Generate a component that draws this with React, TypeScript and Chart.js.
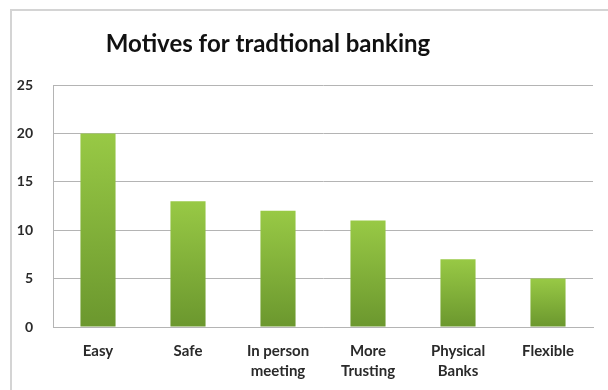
import React, { useEffect, useRef } from "react";
import { Chart, registerables } from "chart.js";

Chart.register(...registerables);

const TITLE = "Motives for tradtional banking";
const categories: (string | string[])[] = [
  "Easy",
  "Safe",
  ["In person", "meeting"],
  ["More", "Trusting"],
  ["Physical", "Banks"],
  "Flexible",
];
const values = [20, 13, 12, 11, 7, 5];
const yTicks = [0, 5, 10, 15, 20, 25];

const FONT = "Lato, 'Open Sans', sans-serif";

export default function App() {
  const ref = useRef<HTMLCanvasElement>(null);

  useEffect(() => {
    if (!ref.current) return;
    const titlePlugin = {
      id: "customTitle",
      afterDraw(chart: any) {
        const c = chart.ctx;
        c.save();
        c.font = `bold 24px ${FONT}`;
        c.fillStyle = "#111";
        c.textAlign = "center";
        c.textBaseline = "middle";
        c.fillText(TITLE, 268, 44);
        c.restore();
      },
    };
    const chart = new Chart(ref.current, {
      type: "bar",
      data: {
        labels: categories,
        datasets: [
          {
            data: values,
            backgroundColor: (ctx: any) => {
              const ch = ctx.chart;
              const ys = ch.scales && ch.scales.y;
              if (!ys || !ctx.parsed) return "#86b83a";
              const top = ys.getPixelForValue(ctx.parsed.y);
              const bot = ys.getPixelForValue(0);
              if (!isFinite(top) || !isFinite(bot) || top === bot) return "#86b83a";
              const g = ch.ctx.createLinearGradient(0, top, 0, bot);
              g.addColorStop(0, "#98c945");
              g.addColorStop(1, "#6b972e");
              return g;
            },
            borderWidth: 0,
            categoryPercentage: 1,
            barPercentage: 0.39,
          },
        ],
      },
      options: {
        animation: false,
        responsive: false,
        maintainAspectRatio: false,
        layout: { padding: { left: 0, right: 15, top: 85, bottom: 0 } },
        plugins: {
          legend: { display: false },
          tooltip: { enabled: false },
          title: { display: false },
        },
        scales: {
          x: {
            grid: { display: false, drawTicks: false },
            border: { color: "#b4b4b4", width: 1 },
            ticks: {
              padding: 14,
              color: "#2a2a2a",
              font: { family: FONT, size: 15, weight: "bold", lineHeight: 1.35 },
              maxRotation: 0,
              autoSkip: false,
            },
            afterFit: (s: any) => {
              s.height = 63;
            },
          },
          y: {
            min: 0,
            max: 25,
            afterBuildTicks: (s: any) => {
              s.ticks = yTicks.map((v) => ({ value: v }));
            },
            grid: { color: "#b4b4b4", lineWidth: 1, drawTicks: false },
            border: { color: "#b4b4b4", width: 1 },
            ticks: {
              padding: 20,
              color: "#2a2a2a",
              font: { family: FONT, size: 14, weight: "bold" },
            },
            afterFit: (s: any) => {
              s.width = 53;
            },
          },
        },
      },
      plugins: [titlePlugin],
    });
    return () => chart.destroy();
  }, []);

  return (
    <div
      style={{
        position: "absolute",
        left: 0,
        top: 0,
        width: 608,
        height: 390,
        background: "#fff",
        overflow: "hidden",
      }}
    >
      <div
        style={{
          position: "absolute",
          left: 10,
          top: 9,
          width: 620,
          height: 400,
          border: "2px solid #d4d4d4",
          boxSizing: "border-box",
        }}
      />
      <canvas
        ref={ref}
        width={608}
        height={390}
        style={{ position: "absolute", left: 0, top: 0, width: 608, height: 390 }}
      />
    </div>
  );
}
